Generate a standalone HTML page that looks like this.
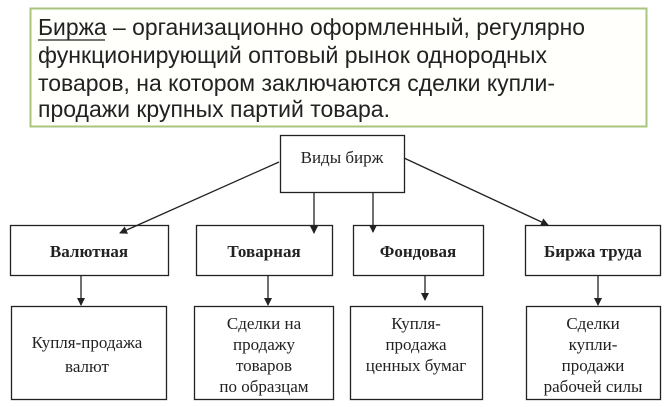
<!DOCTYPE html>
<html><head><meta charset="utf-8"><style>
html,body{margin:0;padding:0;background:#fff;}
svg{display:block;}
.s{font-family:"Liberation Sans",sans-serif;font-size:23px;fill:#222;}
.t{font-family:"Liberation Serif",serif;font-size:17px;fill:#222;text-anchor:middle;}
.b{font-weight:bold;}
</style></head><body>
<svg width="670" height="407" viewBox="0 0 670 407" xmlns="http://www.w3.org/2000/svg">
<defs><marker id="a" markerWidth="8" markerHeight="8" refX="7" refY="4" orient="auto" markerUnits="userSpaceOnUse"><path d="M0,0 L8,4 L0,8 z" fill="#222"/></marker></defs>
<rect x="30.5" y="8.5" width="616" height="118" fill="#fffffc" stroke="#a9c47f" stroke-width="2"/>
<text class="s" x="38" y="35" textLength="547" lengthAdjust="spacingAndGlyphs">Биржа – организационно оформленный, регулярно</text>
<line x1="38" y1="40" x2="105" y2="40" stroke="#222" stroke-width="1.3"/>
<text class="s" x="38" y="63" textLength="509" lengthAdjust="spacingAndGlyphs">функционирующий оптовый рынок однородных</text>
<text class="s" x="38" y="91" textLength="517" lengthAdjust="spacingAndGlyphs">товаров, на котором заключаются сделки купли-</text>
<text class="s" x="38" y="117" textLength="352" lengthAdjust="spacingAndGlyphs">продажи  крупных партий товара.</text>
<g stroke="#222" stroke-width="1.3" fill="none">
<rect x="280.5" y="135.5" width="124" height="57" fill="#fff"/>
<line x1="279" y1="162" x2="120" y2="233" marker-end="url(#a)"/>
<line x1="404" y1="158" x2="548" y2="225" marker-end="url(#a)"/>
<line x1="314" y1="192" x2="314" y2="233" marker-end="url(#a)"/>
<line x1="373" y1="192" x2="373" y2="232" marker-end="url(#a)"/>
<rect x="10.5" y="225.5" width="158" height="50"/>
<rect x="196.5" y="225.5" width="136" height="50"/>
<rect x="353.5" y="225.5" width="130" height="50"/>
<rect x="525.5" y="225.5" width="135" height="50"/>
<line x1="81" y1="275" x2="81" y2="305" marker-end="url(#a)"/>
<line x1="268" y1="275" x2="268" y2="305" marker-end="url(#a)"/>
<line x1="425" y1="275" x2="425" y2="300" marker-end="url(#a)"/>
<line x1="598" y1="275" x2="598" y2="305" marker-end="url(#a)"/>
<rect x="11.5" y="306.5" width="155" height="93"/>
<rect x="194.5" y="306.5" width="139" height="93"/>
<rect x="350.5" y="306.5" width="132" height="93"/>
<rect x="526.5" y="306.5" width="134" height="93"/>
</g>
<text class="t" x="342" y="163">Виды бирж</text>
<text class="t b" x="89" y="257">Валютная</text>
<text class="t b" x="264" y="257">Товарная</text>
<text class="t b" x="418" y="257">Фондовая</text>
<text class="t b" x="593" y="257">Биржа труда</text>
<text class="t" x="87" y="348">Купля-продажа</text>
<text class="t" x="87" y="372">валют</text>
<text class="t" x="264" y="329">Сделки на</text>
<text class="t" x="264" y="350">продажу</text>
<text class="t" x="264" y="371">товаров</text>
<text class="t" x="264" y="392">по образцам</text>
<text class="t" x="416" y="329">Купля-</text>
<text class="t" x="416" y="350">продажа</text>
<text class="t" x="416" y="371">ценных бумаг</text>
<text class="t" x="593" y="329">Сделки</text>
<text class="t" x="593" y="350">купли-</text>
<text class="t" x="593" y="371">продажи</text>
<text class="t" x="593" y="392">рабочей силы</text>
</svg>
</body></html>
